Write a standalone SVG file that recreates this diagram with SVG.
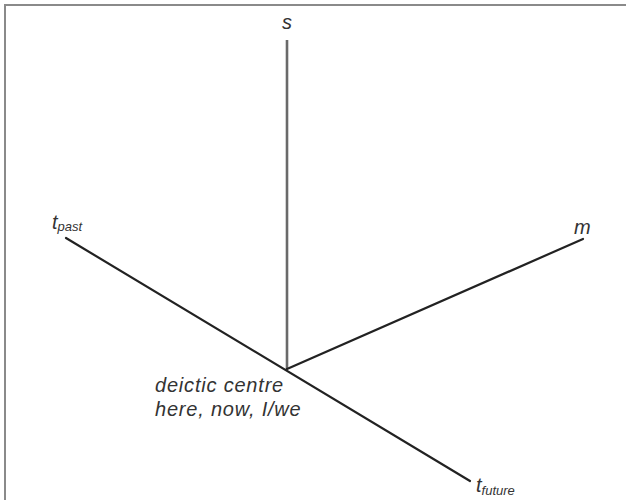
<svg xmlns="http://www.w3.org/2000/svg" width="626" height="500" viewBox="0 0 626 500">
<style>
.ax{stroke:#222;stroke-width:2.2;fill:none;stroke-linecap:round}
.vx{stroke:#6a6a6a;stroke-width:2.6;fill:none}
.lb{font-family:"Liberation Sans",Arial,sans-serif;font-style:italic;fill:#333}
.big{font-size:20px}
.sub{font-size:13px}
.ctr{letter-spacing:0.8px}
</style>
<rect width="626" height="500" fill="#fff"/>
<path d="M5 500 V5 H626" stroke="#8a8a8a" stroke-width="2" fill="none"/>
<g id="connectors">
<line class="vx" x1="287" y1="40" x2="287" y2="369"/>
<line class="ax" x1="66" y1="238" x2="470" y2="481"/>
<line class="ax" x1="287" y1="369" x2="583" y2="239"/>
</g>
<g id="s"><text class="lb big" x="287" y="29" text-anchor="middle">s</text></g>
<g id="m"><text class="lb big" x="574" y="234">m</text></g>
<g id="tpast"><text class="lb" x="52" y="229"><tspan class="big">t</tspan><tspan class="sub" dy="2">past</tspan></text></g>
<g id="tfuture"><text class="lb" x="476" y="492"><tspan class="big">t</tspan><tspan class="sub" dy="3">future</tspan></text></g>
<g id="centre">
<text class="lb big ctr" x="155" y="392">deictic centre</text>
<text class="lb big ctr" x="155" y="416">here, now, I/we</text>
</g>
</svg>
